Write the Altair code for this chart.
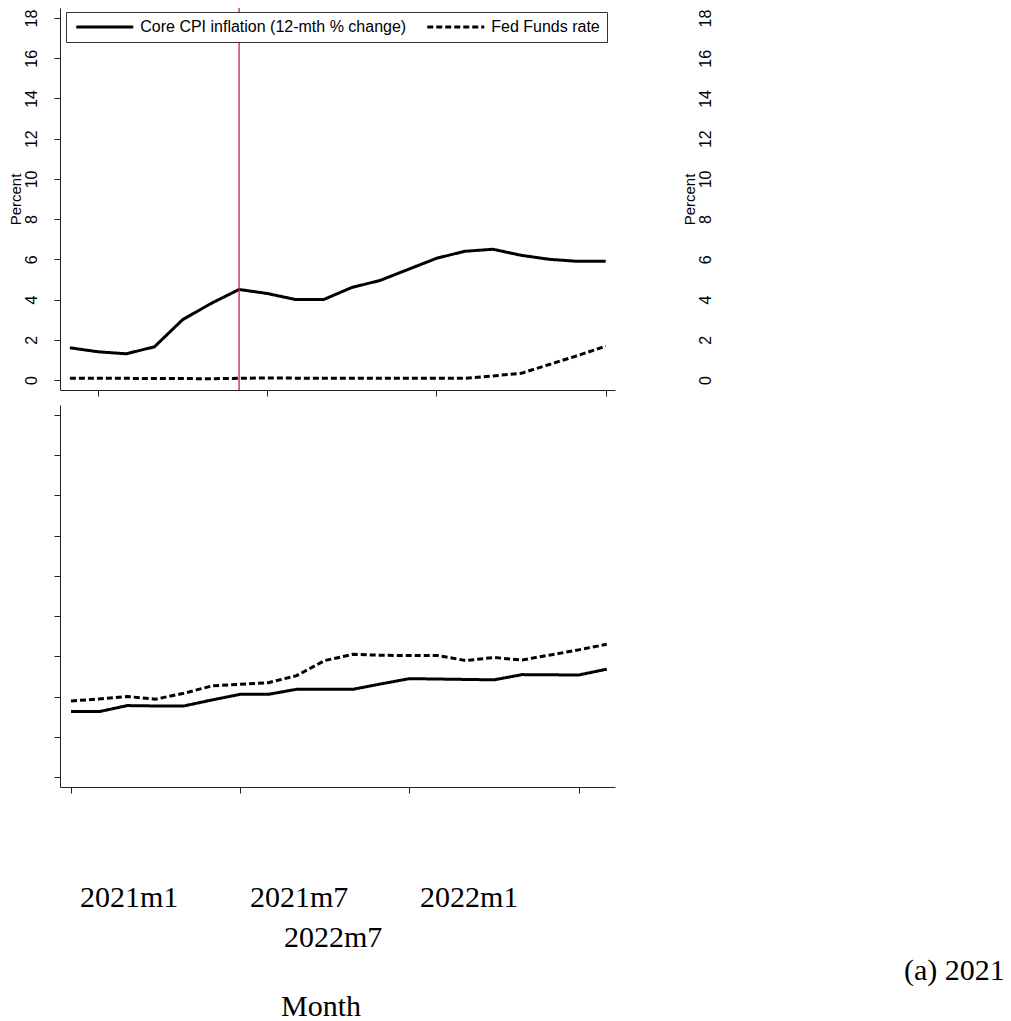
import altair as alt
import pandas as pd

# ------------------------------------------------------------------ data
SERIES_TOP = ["Core CPI inflation (12-mth % change)", "Fed Funds rate"]
MONTHS_TOP = ["2020m12", "2021m1", "2021m2", "2021m3", "2021m4", "2021m5",
              "2021m6", "2021m7", "2021m8", "2021m9", "2021m10", "2021m11",
              "2021m12", "2022m1", "2022m2", "2022m3", "2022m4", "2022m5",
              "2022m6", "2022m7"]
CORE_CPI = [1.6, 1.4, 1.3, 1.65, 3.0, 3.8, 4.5, 4.3, 4.0, 4.0,
            4.6, 4.95, 5.5, 6.05, 6.4, 6.5, 6.2, 6.0, 5.9, 5.9]
FED_FUNDS = [0.09, 0.09, 0.08, 0.07, 0.07, 0.06, 0.08, 0.10, 0.09, 0.08,
             0.08, 0.08, 0.08, 0.08, 0.08, 0.20, 0.33, 0.77, 1.21, 1.68]

SERIES_BOTTOM = ["Series 1", "Series 2"]
MONTHS_BOTTOM = ["2021m1", "2021m2", "2021m3", "2021m4", "2021m5", "2021m6",
                 "2021m7", "2021m8", "2021m9", "2021m10", "2021m11", "2021m12",
                 "2022m1", "2022m2", "2022m3", "2022m4", "2022m5", "2022m6",
                 "2022m7", "2022m8"]
BOTTOM_SOLID = [3.25, 3.25, 3.55, 3.53, 3.53, 3.83, 4.11, 4.11, 4.36, 4.36,
                4.36, 4.63, 4.89, 4.87, 4.85, 4.83, 5.09, 5.08, 5.07, 5.36]
BOTTOM_DASHED = [3.78, 3.88, 4.0, 3.87, 4.16, 4.53, 4.61, 4.69, 5.04, 5.79,
                 6.1, 6.05, 6.04, 6.04, 5.79, 5.94, 5.82, 6.07, 6.32, 6.6]

EVENT_MONTH = "2021m6"
TICK_LABELS = ["2021m1", "2021m7", "2022m1", "2022m7"]
Y_TICKS = [0, 2, 4, 6, 8, 10, 12, 14, 16, 18]
Y_TITLE = "Percent"
X_TITLE = "Month"
PANEL_LABEL = "(a) 2021"


def midx(s):
    y, m = s.split("m")
    return (int(y) - 2021) * 12 + int(m) - 1


TICK_IDX = [midx(t) for t in TICK_LABELS]

top_df = pd.DataFrame({
    "t": [midx(m) for m in MONTHS_TOP] * 2,
    "value": CORE_CPI + FED_FUNDS,
    "series": [SERIES_TOP[0]] * len(CORE_CPI) + [SERIES_TOP[1]] * len(FED_FUNDS),
})
bottom_df = pd.DataFrame({
    "t": [midx(m) for m in MONTHS_BOTTOM] * 2,
    "value": BOTTOM_SOLID + BOTTOM_DASHED,
    "series": [SERIES_BOTTOM[0]] * len(BOTTOM_SOLID) + [SERIES_BOTTOM[1]] * len(BOTTOM_DASHED),
})
rule_df = pd.DataFrame({"t": [midx(EVENT_MONTH)]})

# ------------------------------------------------------------------ layout
W, H = 1011, 1021
SANS = "Liberation Sans"
SERIF = "Liberation Serif"
DASHES = [[1, 0], [6, 3]]

x_top = alt.Scale(domain=[-1.35, 18.33], range=[60, 615], nice=False, zero=False)
y_top = alt.Scale(domain=[-0.5, 18.5], range=[390, 8], nice=False, zero=False)
x_bot = alt.Scale(domain=[-0.39, 19.29], range=[60, 615], nice=False, zero=False)
y_bot = alt.Scale(domain=[-0.5, 18.5], range=[787, 405], nice=False, zero=False)

label_axis = dict(labelAngle=270, labelAlign="center", labelBaseline="bottom",
                  labelFont=SANS, labelFontSize=16, titleFont=SANS, titleFontSize=15,
                  titleFontWeight="normal", grid=False)

top_lines = alt.Chart(top_df).mark_line(color="black", strokeWidth=3).encode(
    x=alt.X("t:Q", scale=x_top, title=None,
            axis=alt.Axis(orient="bottom", offset=390 - H, values=TICK_IDX,
                          labels=False, tickSize=6, grid=False)),
    y=alt.Y("value:Q", scale=y_top,
            axis=alt.Axis(orient="left", offset=-60, values=Y_TICKS, tickSize=6,
                          labelPadding=15, title=Y_TITLE, titlePadding=0, **label_axis)),
    strokeDash=alt.StrokeDash(
        "series:N",
        scale=alt.Scale(domain=SERIES_TOP, range=DASHES),
        legend=alt.Legend(orient="none", legendX=66, legendY=12, direction="horizontal",
                          title=None, symbolType="M-6,0L6,0", symbolSize=90.25,
                          symbolOffset=23.75, clipHeight=16,
                          symbolStrokeWidth=3, symbolStrokeColor="black",
                          labelFont=SANS, labelFontSize=16, labelColor="black",
                          labelLimit=600, labelOffset=27.5, columnPadding=17,
                          padding=7, strokeColor="#333333", fillColor="white"),
    ),
)

red_rule = alt.Chart(rule_df).mark_rule(color="#cc1f4f", strokeWidth=1.3).encode(
    x=alt.X("t:Q", scale=x_top, axis=None),
    y=alt.YDatum(-0.5, scale=y_top, axis=None),
    y2=alt.datum(18.5),
)

right_axis = alt.Chart(top_df).mark_point(opacity=0).encode(
    y=alt.Y("value:Q", scale=y_top,
            axis=alt.Axis(orient="left", offset=-713, values=Y_TICKS, domain=False,
                          ticks=False, tickSize=0, labelPadding=0,
                          title=Y_TITLE, titlePadding=0, **label_axis)),
)

bottom = alt.Chart(bottom_df).mark_line(color="black", strokeWidth=3).encode(
    x=alt.X("t:Q", scale=x_bot, title=None,
            axis=alt.Axis(orient="bottom", offset=787 - H, values=TICK_IDX,
                          labels=False, tickSize=6, grid=False)),
    y=alt.Y("value:Q", scale=y_bot, title=None,
            axis=alt.Axis(orient="left", offset=-60, values=Y_TICKS,
                          labels=False, tickSize=6, grid=False)),
    strokeDash=alt.StrokeDash("series:N",
                              scale=alt.Scale(domain=SERIES_BOTTOM, range=DASHES),
                              legend=None),
)

# free-floating text (as in the reference page)
TEXT_ITEMS = TICK_LABELS + [X_TITLE, PANEL_LABEL]
TEXT_POS = [(80, 907), (250, 907), (420, 907), (284, 947), (281, 1016), (904, 980)]
texts = []
for label, (px, py) in zip(TEXT_ITEMS, TEXT_POS):
    texts.append(
        alt.Chart(pd.DataFrame({"label": [label]})).mark_text(
            align="left", baseline="alphabetic", font=SERIF, fontSize=30, color="black"
        ).encode(x=alt.value(px), y=alt.value(py), text="label:N")
    )

chart = (
    alt.layer(top_lines, red_rule, right_axis, bottom, *texts)
    .resolve_scale(x="independent", y="independent", strokeDash="independent")
    .properties(width=W, height=H, autosize=alt.AutoSizeParams(type="none"),
                padding=0, background="white")
    .configure_view(strokeWidth=0)
    .configure_axis(domainColor="#222222", tickColor="#222222", labelColor="black",
                    titleColor="black", domainWidth=1, tickWidth=1)
)

chart.save("out.html", embed_options={"renderer": "svg", "actions": False})
